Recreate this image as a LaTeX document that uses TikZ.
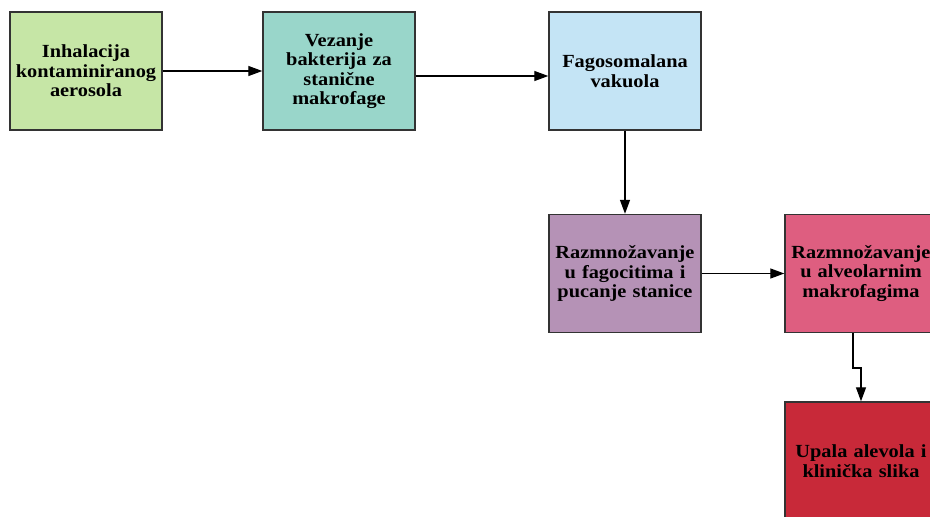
\documentclass[tikz,border=0pt]{standalone}
\usepackage{fontspec}
\setmainfont[FakeStretch=1.1]{Liberation Serif}
\usetikzlibrary{arrows.meta}
\definecolor{cA}{HTML}{C6E6A6}
\definecolor{cB}{HTML}{99D6CA}
\definecolor{cC}{HTML}{C4E4F5}
\definecolor{cD}{HTML}{B592B6}
\definecolor{cE}{HTML}{DE5E80}
\definecolor{cF}{HTML}{C82939}
\definecolor{edge}{HTML}{333333}
\tikzset{
  box/.style={draw=edge, line width=1.4pt, minimum width=152pt, minimum height=118pt,
    inner sep=0pt, align=center, text width=150pt,
    font=\fontsize{18.5}{19.5}\selectfont\bfseries},
  conn/.style={line width=1.3pt, draw=black, -{Triangle[length=14pt,width=10pt]}}
}
\begin{document}
\begin{tikzpicture}[x=1pt,y=-1pt]
\useasboundingbox (0,0) rectangle (930,517);
\begin{scope}
\clip (0,0) rectangle (930,517);
\node[box, fill=cA] (b1) at (86,71) {Inhalacija\\kontaminiranog\\aerosola};
\node[box, fill=cB] (b2) at (339,71) {Vezanje\\bakterija za\\stanične\\makrofage};
\node[box, fill=cC] (b3) at (625,71) {Fagosomalana\\vakuola};
\node[box, fill=cD] (b4) at (625,273.5) {Razmnožavanje\\u fagocitima i\\pucanje stanice};
\node[box, fill=cE] (b5) at (861,273.5) {Razmnožavanje\\u alveolarnim\\makrofagima};
\node[box, fill=cF] (b6) at (861,461) {Upala alevola i\\klinička slika};
\coordinate (s1) at (853,368);
\coordinate (s2) at (861,368);
\draw[conn] (b1.east) -- (b2.west);
\draw[conn] ([yshift=-5pt]b2.east) -- ([yshift=-5pt]b3.west);
\draw[conn] (b3.south) -- (b4.north);
\draw[conn] (b4.east) -- (b5.west);
\draw[conn] (b5.south -| s1) -- (s1) -- (s2) -- (b6.north);
\end{scope}
\end{tikzpicture}
\end{document}
